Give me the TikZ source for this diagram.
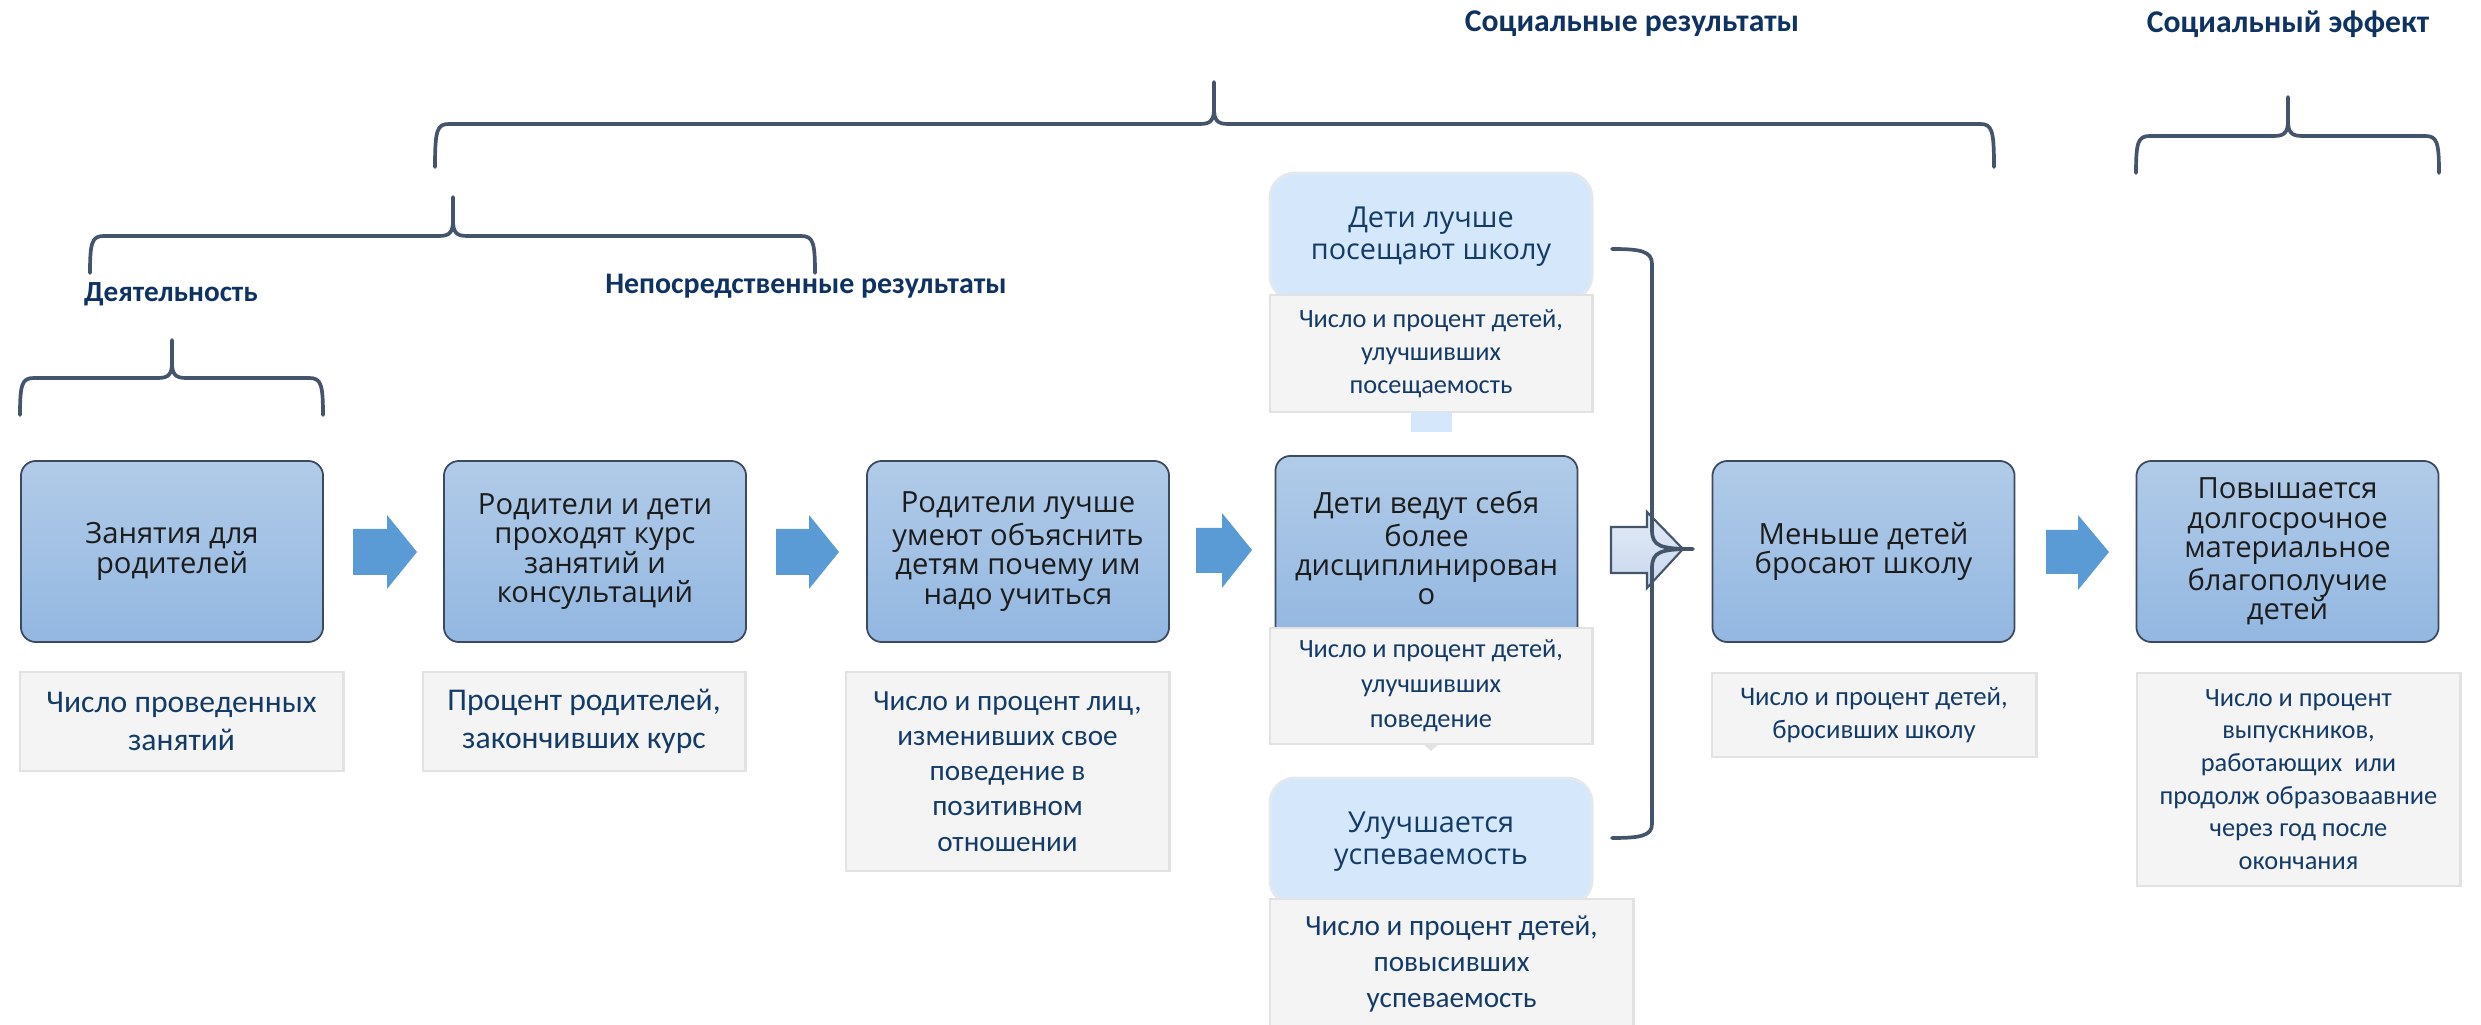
\documentclass[tikz,border=0pt]{standalone}
\usepackage{fontspec}
\setmainfont{Open Sans}
\newfontfamily\calibri{Carlito}
\usetikzlibrary{positioning}

\definecolor{boxtop}{HTML}{B1CBE8}
\definecolor{boxbot}{HTML}{93B7E1}
\definecolor{boxline}{HTML}{3B4A5E}
\definecolor{boxtext}{HTML}{1C1C1C}
\definecolor{softfill}{HTML}{D5E8FB}
\definecolor{softline}{HTML}{E3E8EE}
\definecolor{measfill}{HTML}{F4F4F4}
\definecolor{measline}{HTML}{E2E2E2}
\definecolor{navy}{HTML}{143B68}
\definecolor{headblue}{HTML}{0E3262}
\definecolor{bracecol}{HTML}{44546A}
\definecolor{arrowblue}{HTML}{5B9BD5}
\definecolor{hollowtop}{HTML}{E2EAF6}
\definecolor{hollowbot}{HTML}{C9D8EE}

\newcommand{\upbrace}[6]{%
  \draw[bracket] (#1,#6) .. controls (#1,#4+6) and (#1+2,#4) .. (#1+14,#4)
    -- (#3-14,#4) .. controls (#3-3,#4) and (#3,#4-4) .. (#3,#4-16) -- (#3,#5)
    (#3,#4-16) .. controls (#3,#4-4) and (#3+3,#4) .. (#3+14,#4)
    -- (#2-14,#4) .. controls (#2-2,#4) and (#2,#4+6) .. (#2,#6);}

\begin{document}
\begin{tikzpicture}[x=0.01cm, y=-0.01cm,
    stage/.style={draw=boxline, line width=0.5pt, rounded corners=0.15cm,
      top color=boxtop, bottom color=boxbot, text=boxtext, align=center,
      inner sep=0pt, minimum width=3.02cm, minimum height=1.81cm,
      font=\fontsize{8.3}{8.3}\selectfont},
    soft/.style={draw=softline, line width=0.8pt, rounded corners=0.25cm,
      fill=softfill, text=navy, align=center, inner sep=0pt,
      minimum width=3.22cm, minimum height=1.27cm,
      font=\fontsize{8.2}{9.2}\selectfont},
    measure/.style={draw=measline, line width=0.8pt, fill=measfill,
      text=navy, align=center, inner sep=0pt},
    header/.style={text=headblue, font=\calibri\bfseries\fontsize{9}{10}\selectfont},
    bracket/.style={draw=bracecol, line width=1.05pt, line cap=round, line join=round},
    blk/.style={fill=arrowblue},
    hollow/.style={draw=bracecol, line width=0.6pt, top color=hollowtop, bottom color=hollowbot}]

    \useasboundingbox (0,0) rectangle (2481,1025);

    % headers and braces
    \node (h-act) [header, font=\calibri\bfseries\fontsize{8.3}{10}\selectfont] at (171,294) {Деятельность};
    \node (h-out) [header, font=\calibri\bfseries\fontsize{8.5}{10}\selectfont] at (806,286) {Непосредственные результаты};
    \node (h-soc) [header] at (1632,24) {Социальные результаты};
    \node (h-eff) [header] at (2288,24) {Социальный эффект};

    \upbrace{435}{1994}{1214}{124}{82}{167}
    \upbrace{90}{815}{453}{236}{197}{273}
    \upbrace{20}{323}{172}{378}{340}{415}
    \upbrace{2136}{2439}{2288}{136}{97}{173}

    % chain of stages
    \node (zan) [stage] at (172,551.5) {Занятия для\\родителей};
    \node (kurs) [stage] at (595,551.5) {Родители и дети\\проходят курс\\занятий и\\консультаций};
    \node (obj) [stage] at (1018,551.5) {Родители лучше\\умеют объяснить\\детям почему им\\надо учиться};
    \node (pov) [stage, minimum height=1.84cm] at (1426.5,548) {Дети ведут себя\\более\\дисциплинирован\\о};
    \node (brs) [stage] at (1863.5,551.5) {Меньше детей\\бросают школу};
    \node (blg) [stage] at (2287.5,551.5) {Повышается\\долгосрочное\\материальное\\благополучие\\детей};

    \node (pos) [soft] at (1431,236.5) {Дети лучше\\посещают школу};
    \node (usp) [soft] at (1431,841.5) {Улучшается\\успеваемость};

    % measures
    \node (m-zan) [measure, minimum width=3.23cm, minimum height=0.99cm,
      font=\calibri\fontsize{9}{10.8}\selectfont] at (181.5,721.5)
      {Число проведенных\\занятий};
    \node (m-kurs) [measure, minimum width=3.22cm, minimum height=0.99cm,
      font=\calibri\fontsize{9}{10.8}\selectfont] at (584,721.5)
      {Процент родителей,\\закончивших курс};
    \node (m-obj) [measure, minimum width=3.23cm, minimum height=1.99cm,
      font=\calibri\fontsize{8.3}{10}\selectfont] at (1007.5,771.5)
      {Число и процент лиц,\\изменивших свое\\поведение в\\позитивном\\отношении};
    \node (m-pos) [measure, minimum width=3.22cm, minimum height=1.17cm,
      font=\calibri\fontsize{7.5}{9.4}\selectfont] at (1431,353.5)
      {Число и процент детей,\\улучшивших\\посещаемость};
    \fill[softfill] (1411,412) rectangle (1452,432);
    \node (m-pov) [measure, minimum width=3.22cm, minimum height=1.16cm,
      font=\calibri\fontsize{7.5}{10}\selectfont] at (1431,686)
      {Число и процент детей,\\улучшивших\\поведение};
    \fill[measline] (1423,744) -- (1439,744) -- (1431,751) -- cycle;
    \node (m-usp) [measure, minimum width=3.63cm, minimum height=1.30cm,
      font=\calibri\fontsize{8.3}{10.2}\selectfont] at (1451.5,964)
      {Число и процент детей,\\повысивших\\успеваемость};
    \node (m-brs) [measure, minimum width=3.24cm, minimum height=0.84cm,
      font=\calibri\fontsize{7.6}{9.4}\selectfont] at (1874,715)
      {Число и процент детей,\\бросивших школу};
    \node (m-blg) [measure, minimum width=3.23cm, minimum height=2.13cm,
      font=\calibri\fontsize{7.5}{9.3}\selectfont] at (2298.5,779.5)
      {Число и процент\\выпускников,\\работающих\ \ или\\продолж образоваавние\\через год после\\окончания};

    % block arrows
    \fill[blk] (353,529) -- (387,529) -- (387,515) -- (417,552) -- (387,589) -- (387,575) -- (353,575) -- cycle;
    \fill[blk] (776,529) -- (809,529) -- (809,515) -- (839,552) -- (809,589) -- (809,575) -- (776,575) -- cycle;
    \fill[blk] (1196,528) -- (1222,528) -- (1222,513) -- (1252,550) -- (1222,588) -- (1222,573) -- (1196,573) -- cycle;
    \fill[blk] (2046,530) -- (2078,530) -- (2078,515) -- (2109,552) -- (2078,590) -- (2078,574) -- (2046,574) -- cycle;
    \path[hollow] (1611,527) -- (1647,527) -- (1647,512) -- (1683,549) -- (1647,588) -- (1647,573) -- (1611,573) -- cycle;

    % right brace
    \draw[bracket] (1612,249) .. controls (1640,249) and (1652,251) .. (1652,264)
      -- (1652,530) .. controls (1652,546) and (1660,549) .. (1693,549)
      .. controls (1660,549) and (1652,552) .. (1652,568)
      -- (1652,824) .. controls (1652,836) and (1640,838) .. (1612,838);
\end{tikzpicture}
\end{document}
